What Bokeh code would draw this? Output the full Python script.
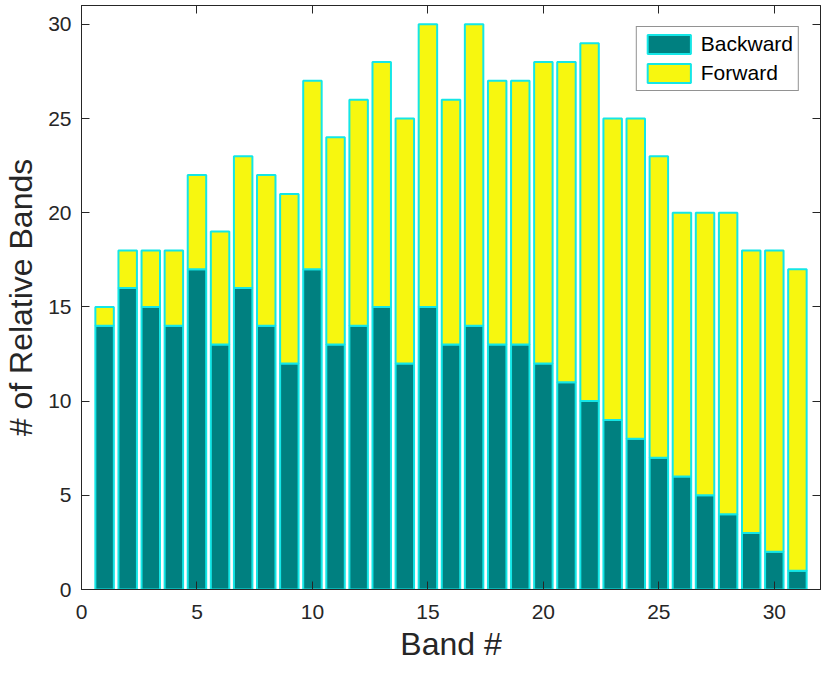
from bokeh.plotting import figure
from bokeh.models import ColumnDataSource, LinearAxis, Range1d, Legend, LegendItem, FixedTicker
from bokeh.embed import file_html
from bokeh.resources import INLINE

bands = list(range(1, 32))
backward = [14, 16, 15, 14, 17, 13, 16, 14, 12, 17, 13, 14, 15, 12, 15, 13, 14, 13, 13, 12,
            11, 10, 9, 8, 7, 6, 5, 4, 3, 2, 1]
total = [15, 18, 18, 18, 22, 19, 23, 22, 21, 27, 24, 26, 28, 25, 30, 26, 30, 27, 27, 28,
         28, 29, 25, 25, 23, 20, 20, 20, 18, 18, 17]
forward = [t - b for t, b in zip(total, backward)]
series = ["Backward", "Forward"]
colors = ["#008080", "#f7f70f"]
ticks = [0, 5, 10, 15, 20, 25, 30]

src = ColumnDataSource(dict(band=bands, Backward=backward, Forward=forward))

FONT = "Liberation Sans"
p = figure(width=830, height=673, output_backend="svg", toolbar_location=None,
           x_range=Range1d(0, 32), y_range=Range1d(0, 31),
           min_border_left=77, min_border_right=10, min_border_top=5, min_border_bottom=84)

renderers = p.vbar_stack(series, x="band", width=0.8, source=src, fill_color=colors,
                         line_color="#14e6e6", line_width=2)

p.xgrid.visible = False
p.ygrid.visible = False
p.outline_line_color = "#262626"
p.outline_line_width = 1
p.background_fill_color = "white"

for ax in [p.xaxis[0], p.yaxis[0]]:
    ax.major_tick_in = 8
    ax.major_tick_out = 0
    ax.minor_tick_line_color = None
    ax.axis_line_color = "#262626"
    ax.major_tick_line_color = "#262626"
    ax.major_label_text_font = FONT
    ax.major_label_text_font_size = "21px"
    ax.major_label_text_color = "#262626"
    ax.axis_label_text_font = FONT
    ax.axis_label_text_font_size = "32px"
    ax.axis_label_text_font_style = "normal"
    ax.axis_label_text_color = "#262626"
    ax.ticker = FixedTicker(ticks=ticks)

p.xaxis[0].axis_label = "Band #"
p.yaxis[0].axis_label = "# of Relative Bands"
p.xaxis[0].major_label_standoff = 15
p.xaxis[0].axis_label_standoff = 4
p.yaxis[0].major_label_standoff = 10
p.yaxis[0].axis_label_standoff = 6


def mirror_axis():
    return LinearAxis(ticker=FixedTicker(ticks=ticks),
                      major_label_text_font_size="1px", major_label_text_color=None,
                      major_tick_in=8, major_tick_out=0, minor_tick_line_color=None,
                      axis_line_color="#262626", major_tick_line_color="#262626",
                      major_label_standoff=0)


p.add_layout(mirror_axis(), "above")
p.add_layout(mirror_axis(), "right")

legend = Legend(items=[LegendItem(label=s, renderers=[r]) for s, r in zip(series, renderers)],
                location="top_right")
legend.label_text_font = FONT
legend.label_text_font_size = "21px"
legend.label_text_color = "black"
legend.glyph_width = 54
legend.glyph_height = 24
legend.border_line_color = "#262626"
legend.border_line_width = 1
legend.margin = 21
legend.padding = 5
legend.spacing = 5
legend.label_standoff = 5
legend.background_fill_alpha = 1
p.add_layout(legend)

html = file_html(p, INLINE)
open("out.html", "w").write(html)
